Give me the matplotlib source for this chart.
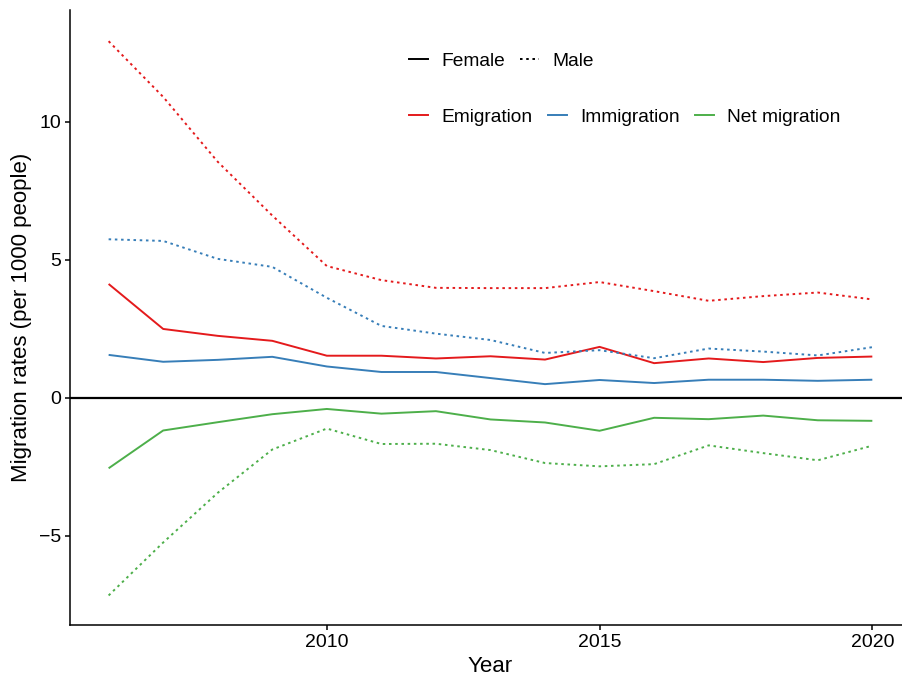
import matplotlib
matplotlib.use("Agg")
import matplotlib.pyplot as plt
from matplotlib.lines import Line2D

plt.rcParams['font.family'] = ['Liberation Sans', 'DejaVu Sans']

years = list(range(2006, 2021))

# rates per 1000 people, by sex
emig_female = [4.12, 2.49, 2.24, 2.06, 1.52, 1.52, 1.42, 1.50, 1.38, 1.84, 1.25, 1.42, 1.29, 1.44, 1.49]
emig_male = [12.92, 10.90, 8.55, 6.60, 4.77, 4.26, 3.98, 3.97, 3.97, 4.19, 3.86, 3.51, 3.68, 3.81, 3.56]
immig_female = [1.55, 1.30, 1.37, 1.48, 1.13, 0.93, 0.93, 0.71, 0.49, 0.64, 0.53, 0.65, 0.65, 0.61, 0.65]
immig_male = [5.74, 5.68, 5.03, 4.74, 3.62, 2.60, 2.32, 2.09, 1.62, 1.72, 1.43, 1.78, 1.67, 1.53, 1.83]
net_female = [-2.56, -1.19, -0.89, -0.60, -0.41, -0.58, -0.49, -0.79, -0.90, -1.20, -0.73, -0.78, -0.65, -0.82, -0.84]
net_male = [-7.17, -5.25, -3.45, -1.88, -1.12, -1.68, -1.67, -1.90, -2.37, -2.49, -2.41, -1.73, -2.01, -2.27, -1.74]

series_names = ["Emigration", "Immigration", "Net migration"]
colors = ["#E41A1C", "#377EB8", "#4DAF4A"]
dotted = (0, (1.3, 1.9))
lw = 1.4

fig = plt.figure(figsize=(9.02, 6.77), dpi=100)
ax = fig.add_axes([70 / 902, 52 / 677, 832 / 902, 615 / 677])

ax.axhline(0, color="black", lw=1.6, zorder=1)

female = [emig_female, immig_female, net_female]
male = [emig_male, immig_male, net_male]
for f, m, c in zip(female, male, colors):
    ax.plot(years, f, color=c, lw=lw, solid_capstyle="butt", zorder=2)
    ax.plot(years, m, color=c, lw=lw, linestyle=dotted, dash_capstyle="butt", zorder=2)

ax.set_xlim(2005.292, 2020.544)
ax.set_ylim(-8.24, 14.05)
ax.set_xticks([2010, 2015, 2020])
ax.set_yticks([-5, 0, 5, 10])

for s in ["top", "right"]:
    ax.spines[s].set_visible(False)
for s in ["left", "bottom"]:
    ax.spines[s].set_linewidth(1.1)
ax.tick_params(direction="out", length=3.5, width=1.1, colors="black",
               labelsize=14, pad=3)

ax.set_xlabel("Year", fontsize=16)
ax.xaxis.set_label_coords((490 - 70) / 832, -0.05)
ax.set_ylabel("Migration rates (per 1000 people)", fontsize=16, labelpad=5)

# two legend rows: line type for sex, colour for flow
leg_kw = dict(frameon=False, loc="center left", fontsize=13.8,
              handlelength=1.0, handletextpad=0.68, columnspacing=0.8,
              borderpad=0, borderaxespad=0)
sex_handles = [Line2D([], [], color="black", lw=lw),
               Line2D([], [], color="black", lw=lw, linestyle=dotted)]
fig.legend(sex_handles, ["Female", "Male"], ncol=2,
           bbox_to_anchor=(409 / 902, 1 - 61 / 677), **leg_kw)
col_handles = [Line2D([], [], color=c, lw=lw) for c in colors]
fig.legend(col_handles, series_names, ncol=3,
           bbox_to_anchor=(409 / 902, 1 - 117 / 677), **leg_kw)

fig.savefig("out.png", dpi=100)
